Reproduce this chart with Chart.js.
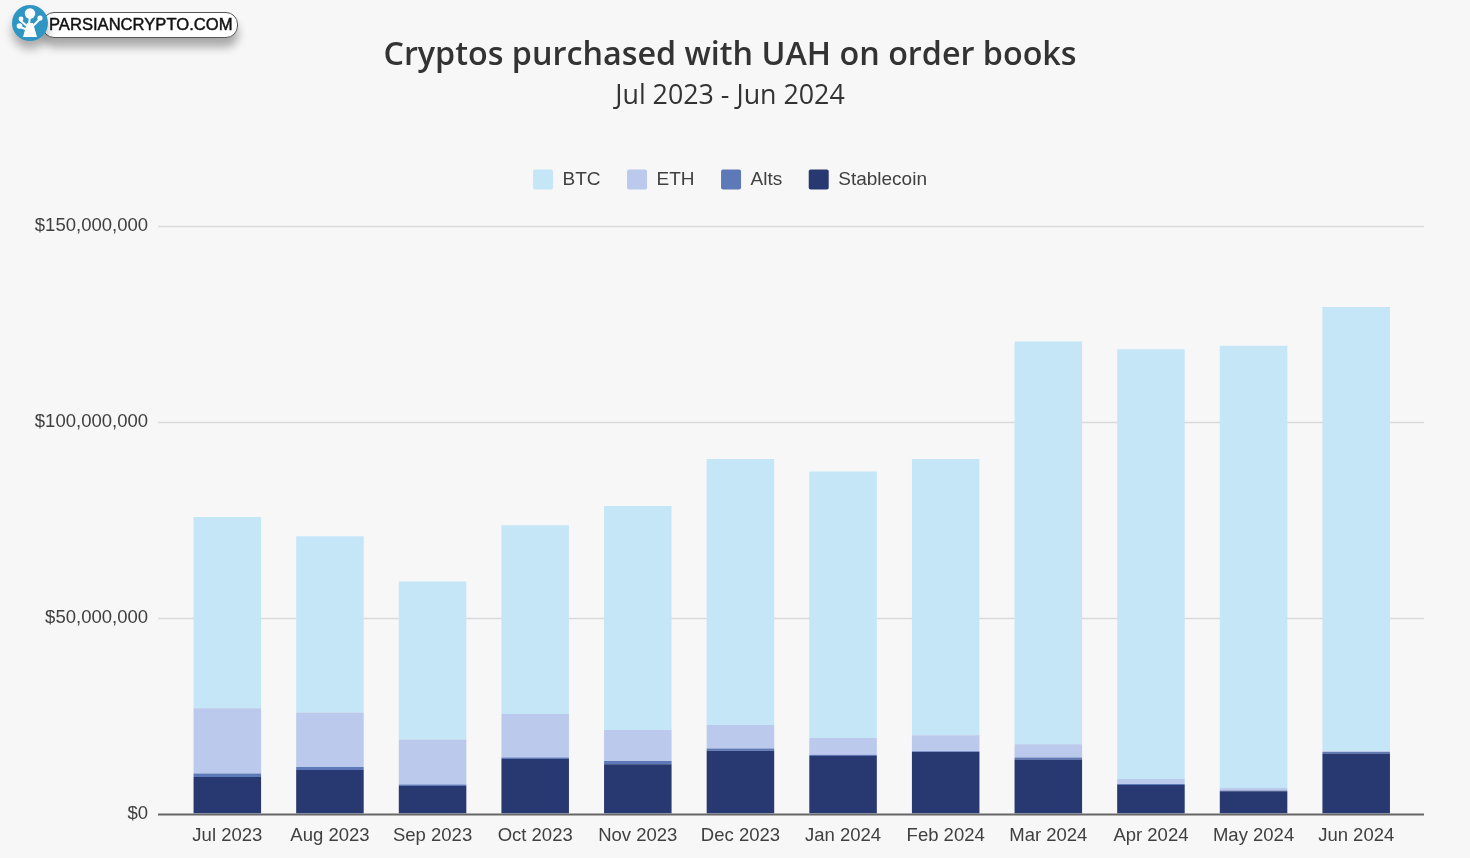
<!DOCTYPE html>
<html>
<head>
<meta charset="utf-8">
<title>Cryptos purchased with UAH on order books</title>
<script src="https://cdn.jsdelivr.net/npm/chart.js@4"></script>
<style>
    html, body { margin: 0; padding: 0; background: #f7f7f7; }
    #wrap { position: relative; width: 1470px; height: 858px; overflow: hidden; }
    #logo { position: absolute; left: 12px; top: 5px; width: 226px; height: 50px; }
    #logo .pill {
        position: absolute; left: 30px; top: 7px; width: 194px; height: 24px;
        background: #fff; border: 1px solid #555; border-radius: 12px;
        box-shadow: 0 9px 10px rgba(0,0,0,.32);
        font: 16.6px "Liberation Sans", Arial, sans-serif; color: #111;
        line-height: 24px; text-indent: 6px; -webkit-text-stroke: .45px #111;
    }
    #logo svg { position: absolute; left: 0; top: 0; filter: drop-shadow(0 8px 5px rgba(0,0,0,.3)); }
</style>
</head>
<body>
<div id="wrap">
    <canvas id="cryptoChart" width="1470" height="858"></canvas>
    <div id="logo">
        <div class="pill">PARSIANCRYPTO.COM</div>
        <svg width="36" height="38" viewBox="0 0 36 38">
            <circle cx="18" cy="18" r="18" fill="#2f96c4"/>
            <path d="M11 32 L15 18 L21 18 L25 32 Z" fill="#fff"/>
            <path d="M17 20 L18 10 M16 22 L8 15 M20 22 L29 13 M16 25 L8 22" stroke="#fff" stroke-width="2"/>
            <circle cx="18" cy="8.5" r="5.2" fill="#fff"/>
            <circle cx="9" cy="14" r="2.4" fill="#fff"/>
            <circle cx="28" cy="13" r="2.6" fill="#fff"/>
            <circle cx="7.5" cy="21" r="2.8" fill="#fff"/>
        </svg>
    </div>
</div>
<script>
// values in millions of USD
const months = ['Jul 2023', 'Aug 2023', 'Sep 2023', 'Oct 2023', 'Nov 2023', 'Dec 2023',
    'Jan 2024', 'Feb 2024', 'Mar 2024', 'Apr 2024', 'May 2024', 'Jun 2024'];
const stablecoin = [9.3, 11.1, 7.0, 13.9, 12.6, 16.0, 14.7, 15.7, 13.8, 7.3, 5.7, 15.3];
const alts = [0.9, 0.8, 0.4, 0.4, 0.8, 0.6, 0.3, 0.2, 0.5, 0.2, 0.2, 0.4];
const eth = [16.7, 13.9, 11.5, 11.1, 7.9, 6.0, 4.3, 4.1, 3.4, 1.3, 0.6, 0.3];
const btc = [48.8, 45.0, 40.3, 48.2, 57.2, 67.9, 68.0, 70.5, 102.8, 109.7, 112.9, 113.3];
const yTicks = [0, 50, 100, 150];

const gridColor = '#d9d9d9';
const baseColor = '#666666';
const textColor = '#404040';
const axisFont = { family: '"Liberation Sans", Arial, sans-serif', size: 18.5 };

// grid lines run past the first and last category in the original
const longGrid = {
    id: 'longGrid',
    beforeDatasetsDraw(chart) {
        let ctx = chart.ctx;
        let y = chart.scales.y;
        ctx.save();
        yTicks.forEach(t => {
            let py = Math.round(y.getPixelForValue(t)) + 0.5;
            ctx.strokeStyle = t === 0 ? baseColor : gridColor;
            ctx.lineWidth = t === 0 ? 2 : 1.6;
            ctx.beginPath();
            ctx.moveTo(158, py);
            ctx.lineTo(1424, py);
            ctx.stroke();
        });
        ctx.restore();
    }
};

// more room between the legend and the plot
const legendGap = {
    id: 'legendGap',
    beforeInit(chart) {
        let fit = chart.legend.fit;
        chart.legend.fit = function() {
            fit.call(this);
            this.height += 26.5;
        };
    }
};

function barSet(label, data, color) {
    return {
        label: label,
        data: data,
        backgroundColor: color,
        categoryPercentage: 1,
        barPercentage: 0.658,
        borderWidth: 0
    };
}

new Chart(document.getElementById('cryptoChart').getContext('2d'), {
    type: 'bar',
    data: {
        labels: months,
        // bottom of the stack first
        datasets: [
            barSet('Stablecoin', stablecoin, '#283870'),
            barSet('Alts', alts, '#5e79b8'),
            barSet('ETH', eth, '#bac9ec'),
            barSet('BTC', btc, '#c5e6f7')
        ]
    },
    options: {
        responsive: false,
        animation: false,
        layout: { padding: { left: 0, right: 10, top: 36, bottom: 0 } },
        plugins: {
            title: {
                display: true,
                text: 'Cryptos purchased with UAH on order books',
                color: '#333333',
                font: { family: '"Open Sans"', size: 32.3, weight: '600' },
                padding: { top: 0, bottom: 6 }
            },
            subtitle: {
                display: true,
                text: 'Jul 2023 - Jun 2024',
                color: '#333333',
                font: { family: '"Open Sans"', size: 26.8, weight: '400' },
                padding: { top: 0, bottom: 30 }
            },
            legend: {
                position: 'top',
                labels: {
                    boxWidth: 20,
                    boxHeight: 20,
                    useBorderRadius: true,
                    borderRadius: 2,
                    padding: 26.5,
                    color: textColor,
                    font: { family: axisFont.family, size: 19 },
                    sort: (a, b) => b.datasetIndex - a.datasetIndex
                }
            },
            tooltip: { enabled: false }
        },
        scales: {
            x: {
                stacked: true,
                grid: { display: false, drawTicks: false },
                border: { display: false },
                ticks: { color: textColor, font: axisFont, padding: 11, maxRotation: 0, autoSkip: false },
                afterFit(scale) { scale.height = 44.5; }
            },
            y: {
                stacked: true,
                min: 0,
                max: 150,
                grid: { display: false, drawTicks: false },
                border: { display: false },
                afterBuildTicks(scale) { scale.ticks = yTicks.map(v => ({ value: v })); },
                ticks: {
                    color: textColor,
                    font: axisFont,
                    padding: 28,
                    callback: v => '$' + (v * 1000000).toLocaleString('en-US')
                },
                afterFit(scale) { scale.width = 176; }
            },
            // empty axis, only keeps the right margin of the plot
            yRight: {
                position: 'right',
                grid: { display: false, drawTicks: false },
                border: { display: false },
                ticks: { display: false },
                afterFit(scale) { scale.width = 52.5; }
            }
        }
    },
    plugins: [longGrid, legendGap]
});
</script>
</body>
</html>
